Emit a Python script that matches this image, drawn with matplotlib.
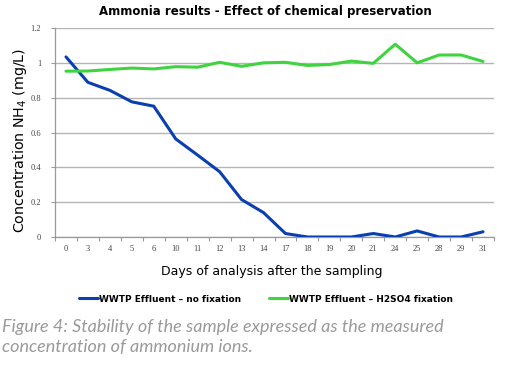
import matplotlib
matplotlib.use("Agg")
import matplotlib.pyplot as plt
import numpy as np

days = ["0", "3", "4", "5", "6", "10", "11", "12", "13", "14", "17", "18",
        "19", "20", "21", "24", "25", "28", "29", "31"]
no_fixation = [1.034, 0.888, 0.842, 0.776, 0.751, 0.563, 0.47, 0.375, 0.215,
               0.14, 0.02, 0.0, 0.0, 0.0, 0.02, 0.0, 0.035, 0.0, 0.0, 0.03]
h2so4_fixation = [0.952, 0.953, 0.962, 0.97, 0.965, 0.978, 0.975, 1.003, 0.98,
                  1.0, 1.003, 0.985, 0.99, 1.01, 0.997, 1.107, 1.0, 1.045,
                  1.045, 1.008]
yticks = [0, 0.2, 0.4, 0.6, 0.8, 1.0, 1.2]
yticklabels = ["0", "0.2", "0.4", "0.6", "0.8", "1", "1.2"]

fig = plt.figure(figsize=(5.16, 3.75), dpi=100)
ax = fig.add_axes([55/516, 1 - 237/375, (494-55)/516, (237-28)/375])

x = np.arange(len(days))
blue = "#0a3fb0"
green = "#3fd43f"
ax.plot(x, no_fixation, color=blue, lw=2.2, solid_joinstyle="round",
        solid_capstyle="round", label="WWTP Effluent \u2013 no fixation", zorder=3)
ax.plot(x, h2so4_fixation, color=green, lw=2.2, solid_joinstyle="round",
        solid_capstyle="round", label="WWTP Effluent \u2013 H2SO4 fixation", zorder=3)

ax.set_xlim(-0.5, len(days) - 0.5)
ax.set_ylim(0, 1.2)
ax.set_yticks(yticks)
ax.set_yticklabels(yticklabels, fontsize=6, color="#444444", family="Liberation Serif")
ax.set_xticks(x)
ax.set_xticklabels(days, fontsize=6, color="#444444", family="Liberation Serif")
ax.set_xticks(np.arange(-0.5, len(days)), minor=True)
ax.tick_params(axis="x", which="major", length=0, pad=6)
ax.tick_params(axis="x", which="minor", length=3, color="#999999", width=0.8)
ax.tick_params(axis="y", length=3, color="#999999", width=0.8, pad=7)
ax.grid(axis="y", color="#b5b5b5", lw=1)
for s in ["top", "right"]:
    ax.spines[s].set_visible(False)
for s in ["left", "bottom"]:
    ax.spines[s].set_color("#999999")
    ax.spines[s].set_linewidth(0.9)

fig.text(265/516, 1 - 11/375, "Ammonia results - Effect of chemical preservation",
         ha="center", va="center", fontsize=8.5, fontweight="bold", family="DejaVu Sans")
fig.text(20/516, 1 - 140/375, "Concentration NH$_4$ (mg/L)", rotation=90,
         ha="center", va="center", fontsize=10.3, family="DejaVu Sans")
fig.text(272/516, 1 - 271/375, "Days of analysis after the sampling",
         ha="center", va="center", fontsize=9, family="DejaVu Sans")

leg = fig.legend(loc="center", bbox_to_anchor=(266/516, 1 - 299/375), ncol=2,
                 frameon=False, handlelength=2.2, handletextpad=0.1,
                 columnspacing=3.0, prop={"size": 6.5, "weight": "bold", "family": "DejaVu Sans"})

cap_kw = dict(ha="left", va="center", fontsize=13, style="italic", color="#9a9a9a",
              family="Lato", weight="normal")
fig.text(2/516, 1 - 327/375, "Figure 4: Stability of the sample expressed as the measured", **cap_kw)
fig.text(2/516, 1 - 347/375, "concentration of ammonium ions.", **cap_kw)

fig.savefig("out.png", dpi=100)
